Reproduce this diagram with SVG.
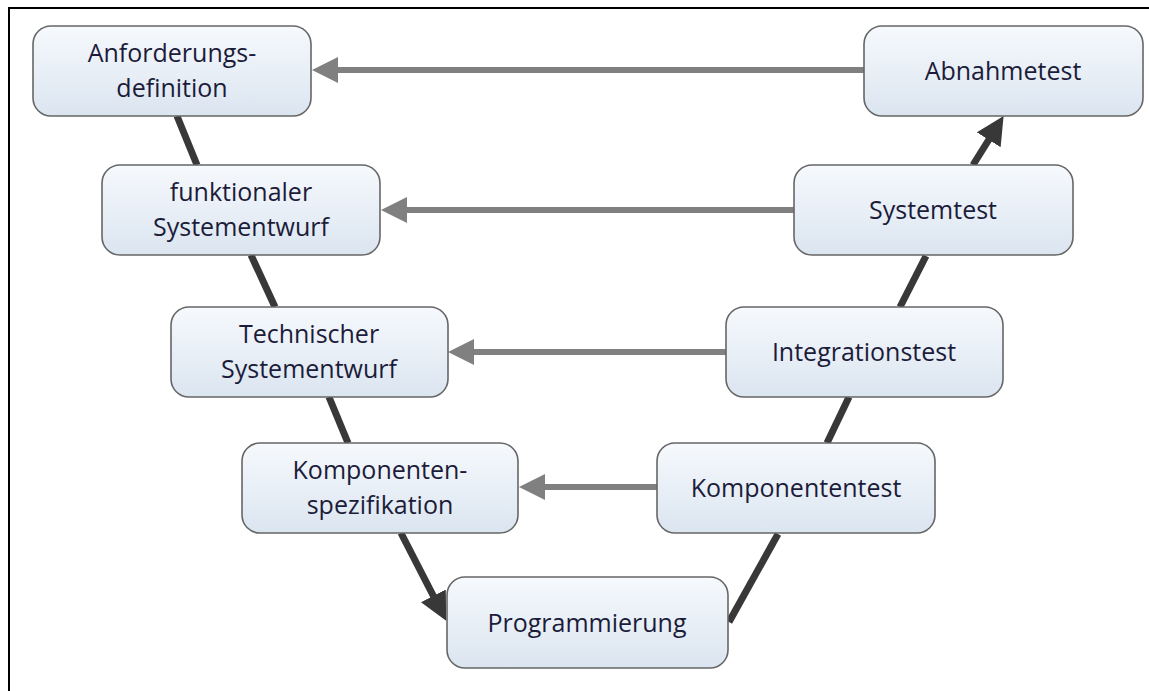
<svg xmlns="http://www.w3.org/2000/svg" width="1149" height="691" viewBox="0 0 1149 691">
<style>
.box{fill:url(#g);stroke:#666;stroke-width:1.6}
.lbl{font-family:"Open Sans","Liberation Sans",sans-serif;font-size:25px;fill:#1c1c3a;text-anchor:middle}
.grey{stroke:#808080;stroke-width:6;fill:none}
.dark{stroke:#383838;stroke-width:7;fill:none}
</style>
<defs>
<linearGradient id="g" x1="0" y1="0" x2="0" y2="1">
<stop offset="0" stop-color="#f6f9fd"/>
<stop offset="1" stop-color="#dbe5f0"/>
</linearGradient>
<marker id="ag" markerUnits="userSpaceOnUse" viewBox="0 0 26 26" markerWidth="26" markerHeight="26" refX="8" refY="13" orient="auto">
<path d="M0,0 L26,13 L0,26 z" fill="#808080"/>
</marker>
<marker id="ad" markerUnits="userSpaceOnUse" viewBox="0 0 28 28" markerWidth="28" markerHeight="28" refX="8" refY="14" orient="auto">
<path d="M0,0 L28,14 L0,28 z" fill="#383838"/>
</marker>
</defs>
<rect width="1149" height="691" fill="#fff"/>
<path d="M9,691 L9,8 L1149,8" fill="none" stroke="#000" stroke-width="2"/>

<g id="connectors">
<line class="grey" x1="864" y1="70" x2="330" y2="70" marker-end="url(#ag)"/>
<line class="grey" x1="794" y1="210" x2="399" y2="210" marker-end="url(#ag)"/>
<line class="grey" x1="726" y1="352" x2="466" y2="352" marker-end="url(#ag)"/>
<line class="grey" x1="657" y1="487" x2="537" y2="487" marker-end="url(#ag)"/>
<line class="dark" x1="177" y1="116" x2="197" y2="165"/>
<line class="dark" x1="251" y1="255" x2="275" y2="307"/>
<line class="dark" x1="329" y1="397" x2="348" y2="443"/>
<line class="dark" x1="401" y1="533" x2="437" y2="603" marker-end="url(#ad)"/>
<line class="dark" x1="729" y1="622" x2="778" y2="534"/>
<line class="dark" x1="827" y1="443" x2="849" y2="397"/>
<line class="dark" x1="900" y1="307" x2="926" y2="256"/>
<line class="dark" x1="973" y1="165" x2="993" y2="133" marker-end="url(#ad)"/>
</g>

<g id="n1"><rect class="box" x="33" y="26" width="278" height="90" rx="18"/>
<text class="lbl" x="172" y="62">Anforderungs-</text><text class="lbl" x="172" y="97">definition</text></g>
<g id="n2"><rect class="box" x="864" y="26" width="279" height="90" rx="18"/>
<text class="lbl" x="1003" y="80">Abnahmetest</text></g>
<g id="n3"><rect class="box" x="102" y="165" width="278" height="90" rx="18"/>
<text class="lbl" x="241" y="201">funktionaler</text><text class="lbl" x="241" y="236">Systementwurf</text></g>
<g id="n4"><rect class="box" x="794" y="165" width="279" height="90" rx="18"/>
<text class="lbl" x="933" y="219">Systemtest</text></g>
<g id="n5"><rect class="box" x="171" y="307" width="277" height="90" rx="18"/>
<text class="lbl" x="309" y="343">Technischer</text><text class="lbl" x="309" y="378">Systementwurf</text></g>
<g id="n6"><rect class="box" x="726" y="307" width="277" height="90" rx="18"/>
<text class="lbl" x="864" y="361">Integrationstest</text></g>
<g id="n7"><rect class="box" x="242" y="443" width="276" height="90" rx="18"/>
<text class="lbl" x="380" y="479">Komponenten-</text><text class="lbl" x="380" y="514">spezifikation</text></g>
<g id="n8"><rect class="box" x="657" y="443" width="278" height="90" rx="18"/>
<text class="lbl" x="796" y="497">Komponententest</text></g>
<g id="n9"><rect class="box" x="447" y="577" width="281" height="91" rx="18"/>
<text class="lbl" x="587" y="632">Programmierung</text></g>
</svg>
